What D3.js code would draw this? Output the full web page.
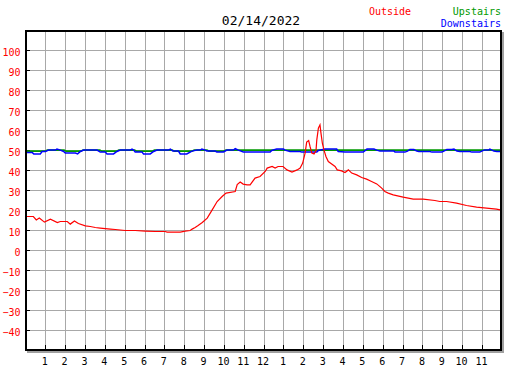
<!DOCTYPE html>
<html><head><meta charset="utf-8">
<script src="https://cdn.jsdelivr.net/npm/d3@7/dist/d3.min.js"></script>
<style>body{margin:0;background:#fff}svg{display:block}</style>
</head><body>
<script>
const chartTitle = "02/14/2022";
const seriesNames = ["Outside", "Upstairs", "Downstairs"];
const seriesColors = ["#ff0000", "#009900", "#0000ff"];
const hourTicks = [1,2,3,4,5,6,7,8,9,10,11,12,13,14,15,16,17,18,19,20,21,22,23];
const hourLabels = ["1","2","3","4","5","6","7","8","9","10","11","12","1","2","3","4","5","6","7","8","9","10","11"];
const tempTicks = [-40,-30,-20,-10,0,10,20,30,40,50,60,70,80,90,100];

const outsideHours = [0.05,0.40,0.55,0.70,0.96,1.26,1.61,1.76,2.11,2.26,2.47,2.67,3.02,3.27,3.52,3.77,4.28,4.53,5.03,5.53,6.04,6.54,7.04,7.14,7.80,8.05,8.30,8.40,8.55,8.70,8.91,9.16,9.41,9.66,9.91,10.11,10.57,10.67,10.82,10.97,11.17,11.32,11.57,11.82,12.08,12.18,12.43,12.58,12.73,12.98,13.18,13.43,13.69,13.84,13.97,14.09,14.17,14.27,14.34,14.43,14.54,14.64,14.68,14.76,14.84,14.89,14.96,15.04,15.14,15.26,15.43,15.60,15.71,15.93,16.10,16.27,16.44,16.69,16.94,17.19,17.44,17.70,17.95,18.11,18.28,18.53,19.03,19.54,20.04,20.63,20.88,21.22,21.72,22.22,22.73,23.23,23.73,23.92];
const outsideTemps = [17.0,17.0,15.3,16.2,14.2,15.7,14.0,14.5,14.5,13.2,14.8,13.5,12.3,12.0,11.5,11.2,10.7,10.5,10.0,10.0,9.7,9.5,9.5,9.2,9.2,9.7,10.0,10.7,11.5,12.5,14.0,16.2,20.3,24.5,27.0,28.7,29.5,33.0,34.2,33.2,32.8,32.8,36.2,37.0,39.5,41.2,42.0,41.2,42.0,42.0,40.3,39.2,40.3,41.2,43.7,48.7,54.2,55.0,52.0,48.7,48.3,50.0,55.3,61.2,62.8,58.7,53.7,50.3,47.0,44.5,43.3,42.0,40.3,39.8,39.0,40.3,38.7,37.8,36.5,35.7,34.5,33.3,31.2,29.5,28.7,27.8,26.7,25.7,25.7,25.0,24.5,24.5,23.7,22.5,21.7,21.2,20.7,20.3];

const upstairsHours = [0.05,1.0,1.1,1.95,2.05,2.8,2.9,3.75,3.85,4.6,4.7,5.5,5.6,6.4,6.5,7.4,7.5,8.4,8.5,9.15,9.25,10.0,10.1,23.95];
const upstairsTemps = [49.7,49.7,50.2,50.2,49.7,49.7,50.2,50.2,49.7,49.7,50.2,50.2,49.7,49.7,50.2,50.2,49.7,49.7,50.2,50.2,49.7,49.7,50.2,50.2];

const downstairsHours = [0.05,0.34,0.42,0.75,0.84,1.01,1.17,1.51,1.59,1.76,1.93,2.01,2.52,2.63,2.77,2.93,3.61,3.77,4.03,4.11,4.44,4.61,4.78,5.28,5.37,5.45,5.53,5.87,5.95,6.29,6.46,6.63,7.21,7.30,7.43,7.71,7.80,8.13,8.39,8.64,8.81,8.89,9.06,9.14,9.56,9.64,9.98,10.15,10.48,10.57,10.73,10.98,11.82,12.33,12.41,12.66,13.0,13.08,13.33,13.84,13.92,14.68,14.76,15.09,15.68,15.76,16.10,17.02,17.21,17.56,17.70,17.86,18.57,18.62,19.12,19.25,19.37,19.57,19.72,19.82,20.38,20.48,20.98,21.08,21.23,21.48,21.59,21.74,21.89,22.39,22.49,22.89,22.99,23.14,23.35,23.40,23.60,23.75,23.95];
const downstairsTemps = [49.0,49.0,48.3,48.3,49.5,49.5,50.2,50.2,50.7,50.2,49.5,48.7,48.7,48.3,49.5,50.2,50.2,49.2,49.2,48.3,48.3,49.5,50.2,50.2,50.7,50.2,49.3,49.3,48.3,48.3,49.5,50.2,50.2,50.7,49.7,49.7,48.3,48.3,49.7,50.2,50.2,50.7,50.2,49.7,49.7,49.3,49.3,50.2,50.2,50.9,50.2,49.3,49.3,49.2,50.0,50.7,50.7,50.2,49.5,49.5,49.2,49.2,50.0,50.7,50.7,49.5,49.2,49.2,50.7,50.7,50.2,49.7,49.7,49.2,49.2,49.7,50.5,50.5,49.7,49.5,49.5,49.2,49.2,49.7,50.5,50.5,50.7,49.7,49.5,49.5,49.2,49.2,49.7,50.3,50.3,50.7,49.7,49.5,49.5];

const W = 527, H = 370;
const font = "'DejaVu Sans Mono', monospace";
const svg = d3.select("body").append("svg").attr("width", W).attr("height", H);

const x = d3.scaleLinear().domain([0, 24]).range([25.4, 501.8]);
const y = d3.scaleLinear().domain([-50, 110]).range([350.5, 30.5]);

// shadow, plot background
svg.append("rect").attr("x", 27).attr("y", 32).attr("width", 477).attr("height", 321).attr("fill", "#a0a0a0");
svg.append("rect").attr("x", 25).attr("y", 30).attr("width", 477).attr("height", 321).attr("fill", "#fff");

// grid
const grid = svg.append("g").attr("stroke", "#a8a8a8").attr("stroke-width", 1).attr("shape-rendering", "crispEdges");
grid.selectAll(".v").data(hourTicks).join("line")
  .attr("x1", d => Math.round(x(d)) + 0.5).attr("x2", d => Math.round(x(d)) + 0.5)
  .attr("y1", 31).attr("y2", 350);
grid.selectAll(".h").data(tempTicks).join("line")
  .attr("x1", 26).attr("x2", 501)
  .attr("y1", d => Math.floor(y(d)) + 0.5).attr("y2", d => Math.floor(y(d)) + 0.5);

// axes (ticks inside)
const xAxis = d3.axisBottom(x).tickValues(hourTicks).tickSize(0).tickPadding(0)
  .tickFormat((d, i) => hourLabels[i]);
const gx = svg.append("g").attr("transform", "translate(0,365)").call(xAxis);
gx.select(".domain").remove();
gx.selectAll("text").attr("dy", 0).attr("y", 0).attr("dx", -1)
  .attr("font-family", font).attr("font-size", 10).attr("fill", "#000");

const yAxis = d3.axisLeft(y).tickValues(tempTicks).tickSize(0).tickPadding(0);
const gy = svg.append("g").attr("transform", "translate(20.5,0)").call(yAxis);
gy.select(".domain").remove();
gy.selectAll("text").attr("dy", "0.45em").attr("x", 0)
  .attr("font-family", font).attr("font-size", 10).attr("fill", "#ff0000");

// inside tick marks
const ticks = svg.append("g").attr("stroke", "#000").attr("shape-rendering", "crispEdges");
ticks.selectAll(".xt").data(hourTicks).join("line")
  .attr("x1", d => Math.round(x(d)) + 0.5).attr("x2", d => Math.round(x(d)) + 0.5)
  .attr("y1", 345).attr("y2", 350);
ticks.selectAll(".yt").data(tempTicks).join("line")
  .attr("x1", 26).attr("x2", 30)
  .attr("y1", d => Math.floor(y(d)) + 0.5).attr("y2", d => Math.floor(y(d)) + 0.5);

// data lines
const line = d3.line().x(d => x(d[0])).y(d => y(d[1]));
const upPts = upstairsHours.map((h, i) => [h, upstairsTemps[i]]);
const downPts = downstairsHours.map((h, i) => [h, downstairsTemps[i]]);
const outPts = outsideHours.map((h, i) => [h, outsideTemps[i]]);
svg.append("path").datum(upPts).attr("d", line).attr("fill", "none")
  .attr("stroke", seriesColors[1]).attr("stroke-width", 1.6);
svg.append("path").datum(downPts).attr("d", line).attr("fill", "none")
  .attr("stroke", seriesColors[2]).attr("stroke-width", 1.5);
svg.append("path").datum(outPts).attr("d", line).attr("fill", "none")
  .attr("stroke", seriesColors[0]).attr("stroke-width", 1.2);

// frame
svg.append("rect").attr("x", 26).attr("y", 31).attr("width", 475).attr("height", 319)
  .attr("fill", "none").attr("stroke", "#000").attr("stroke-width", 2).attr("shape-rendering", "crispEdges");

// title
svg.append("text").attr("x", 261).attr("y", 25).attr("text-anchor", "middle")
  .attr("font-family", font).attr("font-size", 13).attr("fill", "#000").text(chartTitle);

// legend
svg.append("text").attr("x", 369).attr("y", 15).attr("font-family", font).attr("font-size", 10)
  .attr("fill", seriesColors[0]).text(seriesNames[0]);
svg.append("text").attr("x", 501).attr("y", 15).attr("text-anchor", "end").attr("font-family", font).attr("font-size", 10)
  .attr("fill", seriesColors[1]).text(seriesNames[1]);
svg.append("text").attr("x", 501).attr("y", 27).attr("text-anchor", "end").attr("font-family", font).attr("font-size", 10)
  .attr("fill", seriesColors[2]).text(seriesNames[2]);
</script>
</body></html>
